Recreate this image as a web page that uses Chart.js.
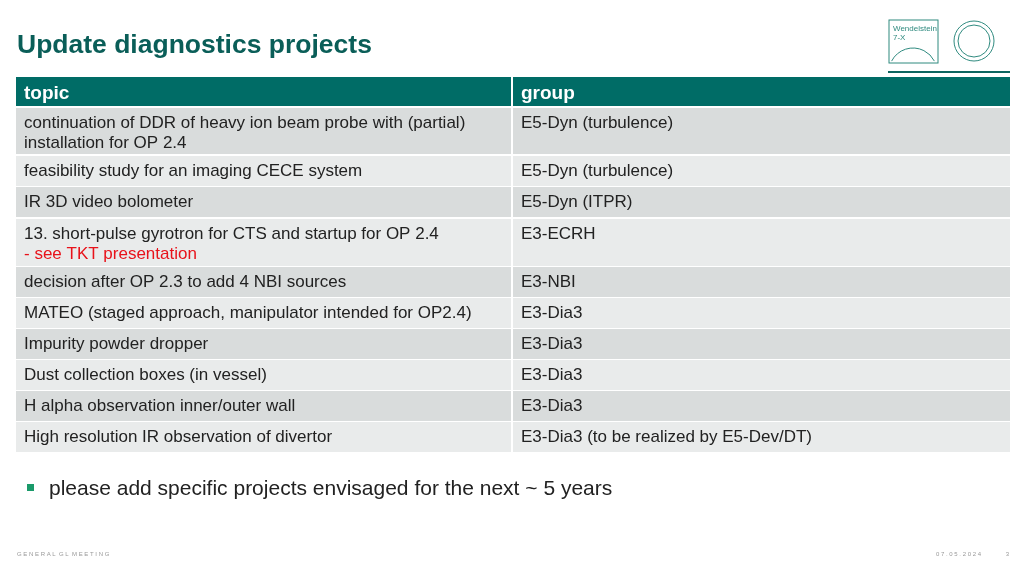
<!DOCTYPE html>
<html>
<head>
<meta charset="utf-8">
<script src="https://cdn.jsdelivr.net/npm/chart.js@4/dist/chart.umd.min.js"></script>
<style>
  html, body { margin: 0; padding: 0; background: #fff; }
  #wrap { width: 1024px; height: 576px; }
</style>
</head>
<body>
<div id="wrap"><canvas id="slide"></canvas></div>
<script>
var headers = ["topic", "group"];
var topics = [
  ["continuation of DDR of heavy ion beam probe with (partial)", "installation for OP 2.4"],
  ["feasibility study for an imaging CECE system"],
  ["IR 3D video bolometer"],
  ["13. short-pulse gyrotron for CTS and startup for OP 2.4", "- see TKT presentation"],
  ["decision after OP 2.3 to add 4 NBI sources"],
  ["MATEO (staged approach, manipulator intended for OP2.4)"],
  ["Impurity powder dropper"],
  ["Dust collection boxes (in vessel)"],
  ["H alpha observation inner/outer wall"],
  ["High resolution IR observation of divertor"]
];
var groups = [
  "E5-Dyn (turbulence)", "E5-Dyn (turbulence)", "E5-Dyn (ITPR)", "E3-ECRH", "E3-NBI",
  "E3-Dia3", "E3-Dia3", "E3-Dia3", "E3-Dia3", "E3-Dia3 (to be realized by E5-Dev/DT)"
];
// row edges on the slide's y scale (header first)
var rowTop =    [77, 108, 156, 187, 219, 267, 298, 329, 360, 391, 422];
var rowBottom = [106, 154, 186, 217, 266, 297, 328, 359, 390, 421, 452];
var colEdges = [16, 513, 1010];

var TEAL = "#006c66";
var FONT = "'Liberation Sans', Arial, sans-serif";

var tablePlugin = {
  id: "tablePlugin",
  afterDraw: function(chart){
    var ctx = chart.ctx;
    var x = chart.scales.x, y = chart.scales.y;
    ctx.save();

    // title
    ctx.fillStyle = "#0a5e58";
    ctx.font = "bold 26.5px " + FONT;
    ctx.textBaseline = "alphabetic";
    ctx.fillText("Update diagnostics projects", x.getPixelForValue(17), y.getPixelForValue(53));

    // logos
    ctx.strokeStyle = "#2f8a7f";
    ctx.lineWidth = 1;
    ctx.strokeRect(x.getPixelForValue(889), y.getPixelForValue(20), 49, 43);
    ctx.fillStyle = "#2f8a7f";
    ctx.font = "8px " + FONT;
    ctx.fillText("Wendelstein", x.getPixelForValue(893), y.getPixelForValue(31));
    ctx.fillText("7-X", x.getPixelForValue(893), y.getPixelForValue(40));
    ctx.beginPath();
    ctx.arc(x.getPixelForValue(913), y.getPixelForValue(72), 24, Math.PI*1.15, Math.PI*1.85);
    ctx.stroke();
    ctx.beginPath();
    ctx.arc(x.getPixelForValue(974), y.getPixelForValue(41), 20, 0, Math.PI*2);
    ctx.stroke();
    ctx.beginPath();
    ctx.arc(x.getPixelForValue(974), y.getPixelForValue(41), 16, 0, Math.PI*2);
    ctx.stroke();
    ctx.fillStyle = "#0d6560";
    ctx.fillRect(x.getPixelForValue(888), y.getPixelForValue(71), x.getPixelForValue(1010) - x.getPixelForValue(888), 2);

    // table cells
    for (var r = 0; r < rowTop.length; r++) {
      var top = y.getPixelForValue(rowTop[r]);
      var h = y.getPixelForValue(rowBottom[r]) - top;
      for (var c = 0; c < 2; c++) {
        var left = x.getPixelForValue(colEdges[c]);
        var w = x.getPixelForValue(colEdges[c+1]) - left - (c === 0 ? 2 : 0);
        ctx.fillStyle = r === 0 ? TEAL : (r % 2 === 1 ? "#d9dcdc" : "#e9ebeb");
        ctx.fillRect(left, top, w, h);
      }
      ctx.textBaseline = "alphabetic";
      if (r === 0) {
        ctx.fillStyle = "#fff";
        ctx.font = "bold 19px " + FONT;
        ctx.fillText(headers[0], x.getPixelForValue(24), top + 22);
        ctx.fillText(headers[1], x.getPixelForValue(521), top + 22);
      } else {
        ctx.font = "17px " + FONT;
        var lines = topics[r-1];
        for (var l = 0; l < lines.length; l++) {
          ctx.fillStyle = (lines[l].indexOf("- see") === 0) ? "#e8121a" : "#222";
          ctx.fillText(lines[l], x.getPixelForValue(24), top + 20 + l*20);
        }
        ctx.fillStyle = "#222";
        ctx.fillText(groups[r-1], x.getPixelForValue(521), top + 20);
      }
    }

    // bullet
    ctx.fillStyle = "#1a9a6a";
    ctx.fillRect(x.getPixelForValue(27), y.getPixelForValue(484), 7, 7);
    ctx.fillStyle = "#222";
    ctx.font = "21px " + FONT;
    ctx.fillText("please add specific projects envisaged for the next ~ 5 years", x.getPixelForValue(49), y.getPixelForValue(495));

    // footer
    ctx.fillStyle = "#999";
    ctx.font = "6px " + FONT;
    ctx.fillText("G E N E R A L  G L  M E E T I N G", x.getPixelForValue(17), y.getPixelForValue(556));
    ctx.textAlign = "right";
    ctx.fillText("0 7 . 0 5 . 2 0 2 4", x.getPixelForValue(981), y.getPixelForValue(556));
    ctx.fillText("3", x.getPixelForValue(1009), y.getPixelForValue(556));
    ctx.restore();
  }
};

new Chart(document.getElementById("slide"), {
  type: "scatter",
  data: { datasets: [] },
  options: {
    responsive: true,
    maintainAspectRatio: false,
    animation: false,
    layout: { padding: 0 },
    plugins: { legend: { display: false }, tooltip: { enabled: false } },
    scales: {
      x: { type: "linear", min: 0, max: 1024, display: false },
      y: { type: "linear", min: 0, max: 576, reverse: true, display: false }
    }
  },
  plugins: [tablePlugin]
});
</script>
</body>
</html>
